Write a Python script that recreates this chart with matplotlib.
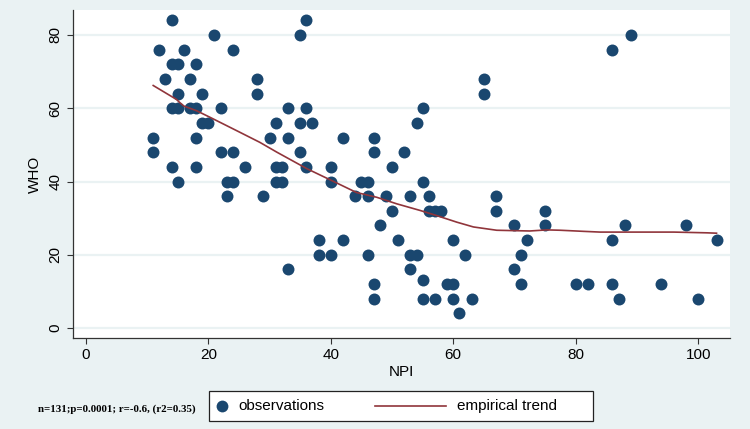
import matplotlib
matplotlib.use("Agg")
import matplotlib.pyplot as plt
from matplotlib.lines import Line2D
from matplotlib.patches import Rectangle

# observations (NPI, WHO)
npi = [11, 11, 12, 13, 14, 14, 14, 14, 15, 15, 15, 15, 16, 17, 17, 18, 18, 18, 18,
       19, 19, 20, 21, 22, 22, 23, 23, 24, 24, 24, 26, 28, 28, 29, 30, 31, 31, 31,
       32, 32, 33, 33, 33, 35, 35, 35, 36, 36, 36, 37, 38, 38, 40, 40, 40, 42, 42,
       44, 45, 46, 46, 46, 47, 47, 47, 47, 48, 49, 50, 50, 51, 52, 53, 53, 53, 54,
       54, 55, 55, 55, 55, 56, 56, 57, 57, 58, 59, 60, 60, 60, 61, 62, 63, 65, 65,
       67, 67, 70, 70, 71, 71, 72, 75, 75, 80, 82, 86, 86, 86, 87, 88, 89, 94, 98,
       100, 103]
who = [52, 48, 76, 68, 84, 72, 60, 44, 72, 64, 60, 40, 76, 68, 60, 72, 60, 52, 44,
       64, 56, 56, 80, 60, 48, 40, 36, 76, 48, 40, 44, 68, 64, 36, 52, 56, 44, 40,
       44, 40, 60, 52, 16, 80, 56, 48, 84, 60, 44, 56, 24, 20, 44, 40, 20, 52, 24,
       36, 40, 40, 36, 20, 52, 48, 12, 8, 28, 36, 44, 32, 24, 48, 36, 20, 16, 56,
       20, 60, 40, 13, 8, 36, 32, 32, 8, 32, 12, 24, 12, 8, 4, 20, 8, 68, 64,
       36, 32, 28, 16, 20, 12, 24, 32, 28, 12, 12, 76, 24, 12, 8, 28, 80, 12, 28,
       8, 24]

# empirical (lowess) trend
trend_x = [11, 14.8, 15.3, 16, 18.1, 20.3, 24.6, 28.4, 31.2, 36.1, 40.1, 44.2, 47.5,
           50.8, 54.6, 57.3, 60.6, 63.3, 67.1, 72.5, 75.3, 77.5, 81.3, 84, 89.4, 96,
           101.4, 103]
trend_y = [66.2, 62.4, 61.6, 60.6, 59.3, 57.5, 53.9, 50.7, 48.0, 43.5, 40.3, 37.0, 35.7,
           33.9, 32.1, 30.7, 28.9, 27.6, 26.7, 26.5, 26.8, 26.7, 26.4, 26.2, 26.2, 26.2,
           26.0, 25.9]

xticks = [0, 20, 40, 60, 80, 100]
yticks = [0, 20, 40, 60, 80]

bg = "#eaf2f3"
navy = "#1a476f"
maroon = "#90353b"
plt.rcParams["font.family"] = ["Liberation Sans", "DejaVu Sans"]

fig = plt.figure(figsize=(7.5, 4.29), dpi=100, facecolor=bg)
W, H = 750, 429
ax = fig.add_axes([73 / W, (H - 338) / H, 657 / W, 328 / H])
ax.set_facecolor("white")

ax.scatter(npi, who, s=74, color=navy, linewidths=0, zorder=3)
ax.plot(trend_x, trend_y, color=maroon, lw=1.2, zorder=4)

ax.set_xlim(-2.1, 105.2)
ax.set_ylim(-2.7, 86.8)
ax.set_xticks(xticks)
ax.set_yticks(yticks)
ax.set_yticklabels([str(v) for v in yticks], rotation=90, va="center")
ax.yaxis.grid(True, color=bg, lw=1.6, zorder=0)
ax.set_axisbelow(True)
for side in ["top", "right"]:
    ax.spines[side].set_visible(False)
for side in ["left", "bottom"]:
    ax.spines[side].set_color("#333333")
    ax.spines[side].set_linewidth(0.9)
ax.tick_params(length=4.5, width=0.8, color="#333333", labelsize=11, pad=3)
ax.set_xlabel("NPI", fontsize=11, labelpad=2)
ax.set_ylabel("WHO", fontsize=11, labelpad=5)

# note at the bottom left
fig.text(117 / W, 1 - 409 / H, "n=131;p=0.0001; r=-0.6, (r2=0.35)",
         family="Liberation Serif", weight="bold", fontsize=7.8, ha="center", va="center")

# legend box drawn by hand
fig.patches.append(Rectangle((209 / W, 1 - 421 / H), 384 / W, 30 / H,
                             transform=fig.transFigure, facecolor="white",
                             edgecolor="#222222", lw=0.9))
ly = 1 - 406 / H
fig.lines.append(Line2D([222 / W], [ly], transform=fig.transFigure, marker="o",
                        markersize=8.5, color=navy, markeredgewidth=0, linestyle="none"))
fig.text(238 / W, ly, "observations", fontsize=11, va="center")
fig.lines.append(Line2D([375 / W, 446 / W], [ly, ly], transform=fig.transFigure,
                        color=maroon, lw=1.2))
fig.text(457 / W, ly, "empirical trend", fontsize=11, va="center")

fig.savefig("out.png", dpi=100, facecolor=bg)
